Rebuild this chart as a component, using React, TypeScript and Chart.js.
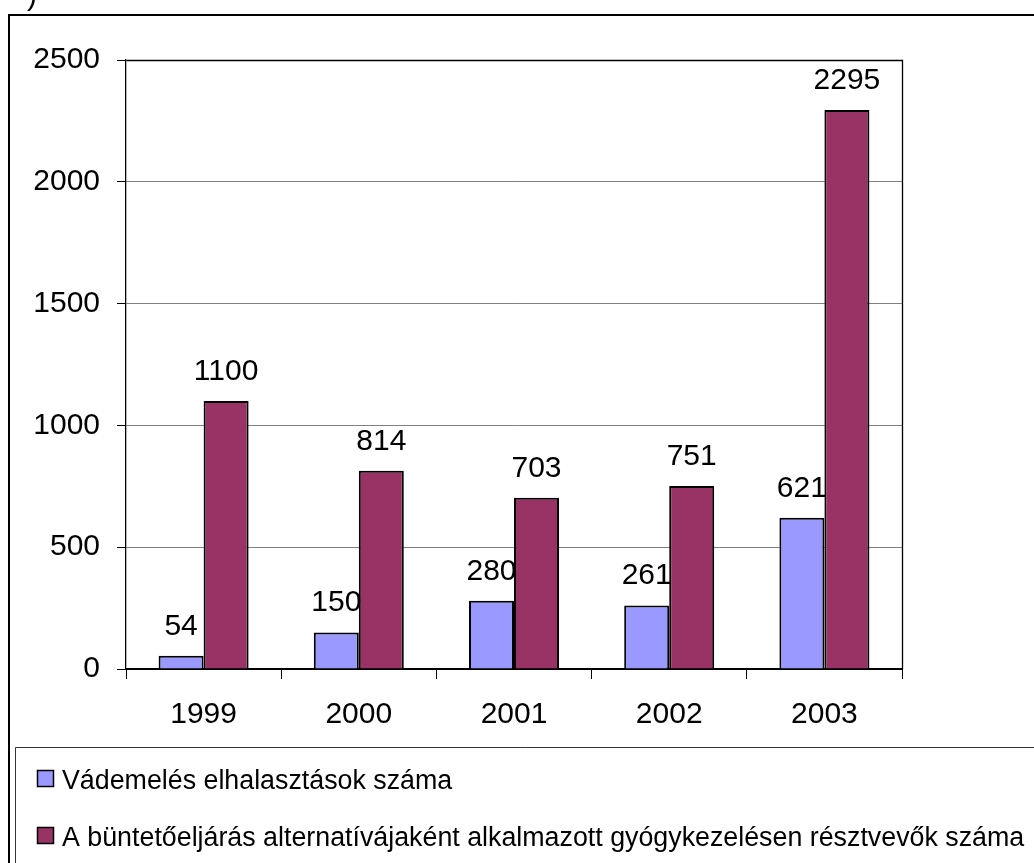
import React, { useEffect, useRef } from "react";
import { Chart, registerables } from "chart.js";

Chart.register(...registerables);

const years = ["1999", "2000", "2001", "2002", "2003"];
const seriesNames = [
  "Vádemelés elhalasztások száma",
  "A büntetőeljárás alternatívájaként alkalmazott gyógykezelésen résztvevők száma",
];
const deferrals = [54, 150, 280, 261, 621];
const treatments = [1100, 814, 703, 751, 2295];
const yTicks = [0, 500, 1000, 1500, 2000, 2500];

const FONT = '"Liberation Sans", Arial, sans-serif';
const BLUE = "#9999FF";
const RED = "#993366";

const W = 1034;
const H = 863;

const decorPlugin = {
  id: "decor",
  afterDatasetsDraw(chart: any) {
    const ctx = chart.ctx;
    const a = chart.chartArea;
    ctx.save();
    // plot area frame (top and right)
    ctx.strokeStyle = "#000";
    ctx.lineWidth = 1.3;
    ctx.beginPath();
    ctx.moveTo(Math.round(a.left) + 0.5, Math.round(a.top) + 0.5);
    ctx.lineTo(Math.round(a.right) + 0.5, Math.round(a.top) + 0.5);
    ctx.lineTo(Math.round(a.right) + 0.5, Math.round(a.bottom) + 0.5);
    ctx.stroke();
    // value labels
    ctx.fillStyle = "#000";
    ctx.font = `30px ${FONT}`;
    ctx.textAlign = "center";
    ctx.textBaseline = "alphabetic";
    chart.data.datasets.forEach((ds: any, di: number) => {
      const meta = chart.getDatasetMeta(di);
      meta.data.forEach((bar: any, i: number) => {
        ctx.fillText(String(ds.data[i]), bar.x, bar.y - 21);
      });
    });
    ctx.restore();
  },
  afterDraw(chart: any) {
    const ctx = chart.ctx;
    ctx.save();
    // cropped text fragment at top
    ctx.fillStyle = "#000";
    ctx.font = `30px ${FONT}`;
    ctx.textAlign = "left";
    ctx.textBaseline = "alphabetic";
    ctx.fillText(")", 27, 5);
    // outer frame (continues beyond the visible area)
    ctx.strokeStyle = "#000";
    ctx.lineWidth = 2;
    ctx.beginPath();
    ctx.moveTo(9, H + 10);
    ctx.lineTo(9, 15);
    ctx.lineTo(W + 10, 15);
    ctx.stroke();
    // legend box
    ctx.strokeStyle = "#333";
    ctx.lineWidth = 1;
    ctx.beginPath();
    ctx.moveTo(15.5, H + 10);
    ctx.lineTo(15.5, 747.5);
    ctx.lineTo(W + 10, 747.5);
    ctx.stroke();
    // legend items
    const rows = [789, 846];
    chart.data.datasets.forEach((ds: any, di: number) => {
      const base = rows[di];
      ctx.fillStyle = ds.backgroundColor;
      ctx.fillRect(37, base - 19, 17, 17);
      ctx.strokeStyle = "#000";
      ctx.lineWidth = 1.5;
      ctx.strokeRect(37.5, base - 18.5, 16, 16);
      ctx.fillStyle = "#000";
      ctx.font = `26.8px ${FONT}`;
      ctx.textAlign = "left";
      ctx.fillText(ds.label, 62, base);
    });
    ctx.restore();
  },
};

function BarChart() {
  const ref = useRef<HTMLCanvasElement | null>(null);
  useEffect(() => {
    if (!ref.current) return;
    const chart = new Chart(ref.current, {
      type: "bar",
      data: {
        labels: years,
        datasets: [
          {
            label: seriesNames[0],
            data: deferrals,
            backgroundColor: BLUE,
            borderColor: "#000",
            borderWidth: 2,
            categoryPercentage: 0.58,
            barPercentage: 1,
          },
          {
            label: seriesNames[1],
            data: treatments,
            backgroundColor: RED,
            borderColor: "#000",
            borderWidth: 2,
            categoryPercentage: 0.58,
            barPercentage: 1,
          },
        ],
      },
      options: {
        animation: false,
        responsive: false,
        devicePixelRatio: 1,
        layout: { padding: { left: 0, right: 132, top: 60, bottom: 0 } },
        plugins: {
          legend: { display: false },
          tooltip: { enabled: false },
          title: { display: false },
        },
        scales: {
          x: {
            offset: true,
            grid: {
              display: true,
              drawOnChartArea: false,
              drawTicks: true,
              tickLength: 10,
              tickColor: "#000",
              offset: true,
            },
            border: { color: "#000", width: 2 },
            ticks: {
              color: "#000",
              font: { family: FONT, size: 30 },
              padding: 18,
              maxRotation: 0,
            },
            afterFit(scale: any) {
              scale.height = 194;
            },
          },
          y: {
            min: 0,
            max: 2500,
            afterBuildTicks(scale: any) {
              scale.ticks = yTicks.map((v) => ({ value: v }));
            },
            grid: {
              color: "#808080",
              lineWidth: 1,
              drawTicks: true,
              tickLength: 9,
              tickColor: "#000",
            },
            border: { color: "#000", width: 1.3 },
            ticks: {
              color: "#000",
              font: { family: FONT, size: 30 },
              padding: 17,
              callback: (v: any) => String(v),
            },
            afterFit(scale: any) {
              scale.width = 126;
            },
          },
        },
      },
      plugins: [decorPlugin],
    } as any);
    return () => chart.destroy();
  }, []);
  return (
    <canvas
      ref={ref}
      width={W}
      height={H}
      style={{ display: "block", width: W, height: H }}
    />
  );
}

export default function App() {
  return (
    <div
      style={{
        position: "fixed",
        left: 0,
        top: 0,
        width: W,
        height: H,
        overflow: "hidden",
        background: "#fff",
      }}
    >
      <BarChart />
    </div>
  );
}
